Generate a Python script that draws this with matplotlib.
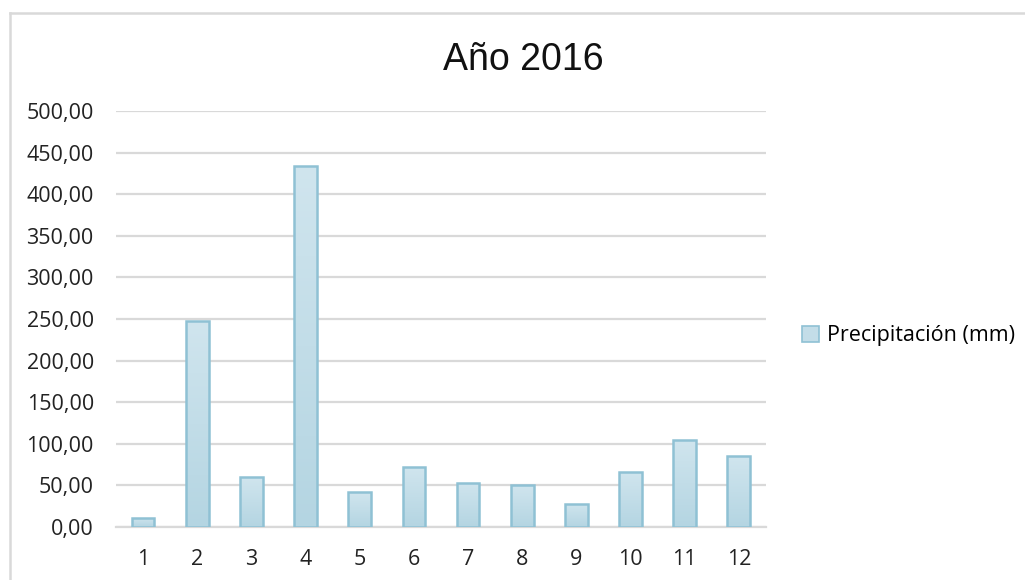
import numpy as np
import matplotlib.pyplot as plt
from matplotlib.ticker import FuncFormatter
from matplotlib.patches import Patch
from matplotlib.lines import Line2D
from matplotlib.colors import LinearSegmentedColormap

# Monthly rainfall, 2016
meses = [str(m) for m in range(1, 13)]
precipitacion = [11, 247, 60, 434, 42, 72, 53, 50, 28, 66, 105, 85]

y_ticks = np.arange(0, 501, 50)

fill_top = '#d0e5ee'
fill_bottom = '#b4d5e2'
edge_col = '#8fc1d4'
grid_col = '#d9d9d9'

fig = plt.figure(figsize=(10.25, 5.8), dpi=100)
ax = fig.add_axes([0.1132, 0.0914, 0.6340, 0.7172])

x = np.arange(1, len(meses) + 1)
bars = ax.bar(x, precipitacion, width=0.42, color=fill_bottom,
              edgecolor=edge_col, linewidth=1.8, zorder=3)

# light vertical gradient inside each bar
grad = np.linspace(0, 1, 256).reshape(-1, 1)
cmap = LinearSegmentedColormap.from_list('g', [fill_bottom, fill_top])
for b in bars:
    x0, w, h = b.get_x(), b.get_width(), b.get_height()
    im = ax.imshow(grad, cmap=cmap, aspect='auto', origin='lower',
                   extent=[x0, x0 + w, 0, h], zorder=2.9)
    im.set_clip_path(b)
    b.set_facecolor('none')

ax.set_xlim(0.5, 12.5)
ax.set_ylim(0, 500)
ax.set_xticks(x)
ax.set_xticklabels(meses)
ax.set_yticks(y_ticks)
ax.yaxis.set_major_formatter(FuncFormatter(lambda v, p: f'{v:.2f}'.replace('.', ',')))
ax.grid(axis='y', color=grid_col, linewidth=1.6, zorder=0)
ax.set_axisbelow(True)
for s in ['top', 'right', 'left']:
    ax.spines[s].set_visible(False)
ax.spines['bottom'].set_color(grid_col)
ax.spines['bottom'].set_linewidth(1.6)
ax.tick_params(axis='y', length=0, pad=16, labelsize=15.5)
ax.tick_params(axis='x', length=0, pad=16, labelsize=15.5)
for lab in ax.get_xticklabels() + ax.get_yticklabels():
    lab.set_fontfamily('Open Sans')
    lab.set_color('#222222')

fig.text(0.511, 0.896, 'Año 2016', ha='center', va='center',
         fontsize=27, fontfamily='Liberation Sans', color='#111111')

handle = Patch(facecolor='#c3dde8', edgecolor=edge_col, linewidth=1.2)
leg = fig.legend([handle], ['Precipitación (mm)'], loc='center left',
                 bbox_to_anchor=(0.764, 0.421), frameon=False,
                 prop={'family': 'Open Sans', 'size': 15.5},
                 handlelength=0.75, handleheight=0.75, handletextpad=0.4)

# outer chart frame (left and top edges)
fig.add_artist(Line2D([9.5 / 1025, 9.5 / 1025], [0, 1 - 13 / 580],
                      transform=fig.transFigure, color='#d9d9d9', linewidth=1.8))
fig.add_artist(Line2D([9.5 / 1025, 1], [1 - 13 / 580, 1 - 13 / 580],
                      transform=fig.transFigure, color='#d9d9d9', linewidth=1.8))

fig.savefig('out.png', dpi=100, facecolor='white')
